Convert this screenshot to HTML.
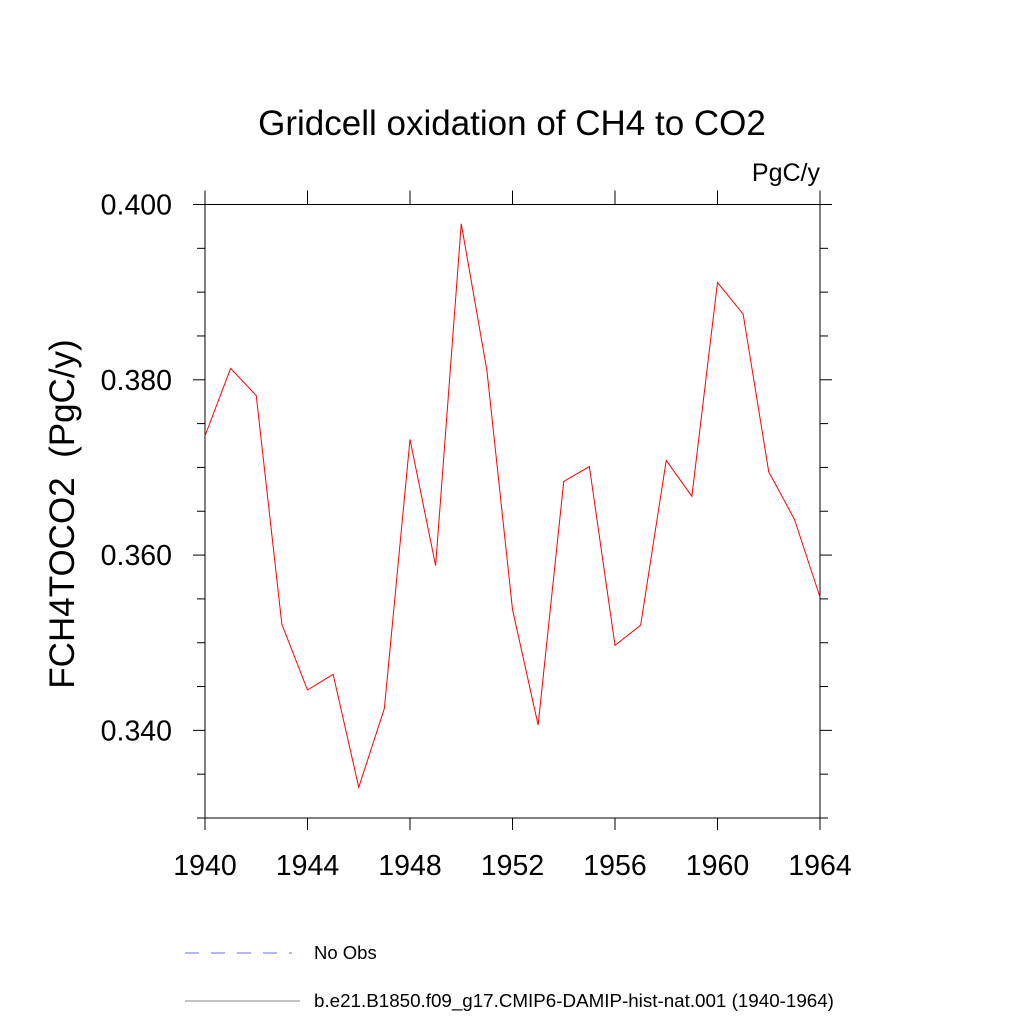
<!DOCTYPE html>
<html><head><meta charset="utf-8"><style>
body{margin:0;background:#fff;font-family:"Liberation Sans",sans-serif}
svg text{font-family:"Liberation Sans",sans-serif;fill:#000}
</style></head><body>
<svg id="c" width="1024" height="1024" xmlns="http://www.w3.org/2000/svg">
<text x="512" y="135" font-size="35" text-anchor="middle">Gridcell oxidation of CH4 to CO2</text>
<text x="820" y="181" font-size="25" text-anchor="end">PgC/y</text>
<text transform="translate(74,514) rotate(-90)" font-size="35" text-anchor="middle" xml:space="preserve">FCH4TOCO2  (PgC/y)</text>
<rect x="205" y="204.5" width="615" height="613.5" fill="none" stroke="#000" stroke-width="1"/>
<g id="ticks"></g>
<polyline id="series" fill="none" stroke="#ff0000" stroke-width="1"/>
<line x1="185" y1="953" x2="292" y2="953" stroke="#6a6aff" stroke-dasharray="14,12"/>
<text x="314" y="959" font-size="18.5">No Obs</text>
<line x1="185" y1="1001" x2="300" y2="1001" stroke="#888"/>
<text x="314" y="1007" font-size="18.8">b.e21.B1850.f09_g17.CMIP6-DAMIP-hist-nat.001 (1940-1964)</text>
</svg>
<script>
const years=[1940,1941,1942,1943,1944,1945,1946,1947,1948,1949,1950,1951,1952,1953,1954,1955,1956,1957,1958,1959,1960,1961,1962,1963,1964];
const values=[0.3736,0.3813,0.3782,0.3521,0.3446,0.3464,0.3335,0.3425,0.3732,0.3588,0.3978,0.3811,0.3538,0.3406,0.3684,0.3701,0.3497,0.3520,0.3708,0.3667,0.3911,0.3875,0.3695,0.3641,0.3552];
const xTicks=[1940,1944,1948,1952,1956,1960,1964];
const yTicks=[0.340,0.360,0.380,0.400];
const yTickLabels=["0.340","0.360","0.380","0.400"];
const X0=205,X1=820,Y0=818,Y1=204.5,xmin=1940,xmax=1964,ymin=0.330,ymax=0.400;
const sx=v=>X0+(v-xmin)/(xmax-xmin)*(X1-X0);
const sy=v=>Y0-(v-ymin)/(ymax-ymin)*(Y0-Y1);
const NS="http://www.w3.org/2000/svg",g=document.getElementById('ticks');
function ln(x1,y1,x2,y2,name){const l=document.createElementNS(NS,'line');l.setAttribute('x1',x1);l.setAttribute('y1',y1);l.setAttribute('x2',x2);l.setAttribute('y2',y2);l.setAttribute('stroke','#000');


g.appendChild(l);}
function tx(x,y,s,anchor,name){const t=document.createElementNS(NS,'text');t.setAttribute('x',x);t.setAttribute('y',y);t.setAttribute('font-size','28.5');t.setAttribute('text-anchor',anchor);t.textContent=s;


g.appendChild(t);}
for(let v=0.330;v<=0.4001;v+=0.005){const y=sy(v);const maj=Math.abs(Math.round(v*1000)%20)===0;const L=maj?12:8;ln(X0-L,y,X0,y,'y-tick-left');ln(X1,y,X1+L,y,'y-tick-right');}
yTicks.forEach((v,i)=>tx(X0-33,sy(v)+10,yTickLabels[i],'end','y-tick-label'));
xTicks.forEach(v=>{const x=sx(v);ln(x,Y0,x,Y0+12,'x-tick-bottom');ln(x,Y1-14,x,Y1,'x-tick-top');tx(x,875,String(v),'middle','x-tick-label');});
document.getElementById('series').setAttribute('points',years.map((y,i)=>sx(y)+','+sy(values[i])).join(' '));
</script>
</body></html>
